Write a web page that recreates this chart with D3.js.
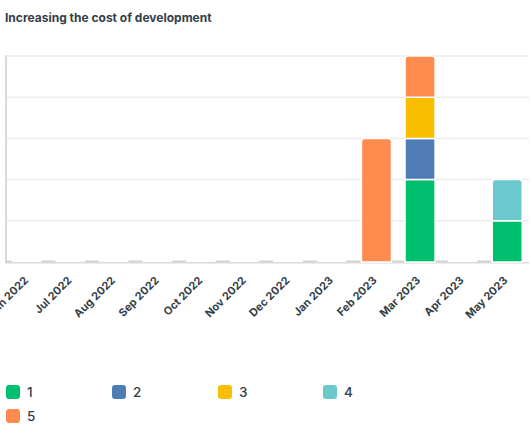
<!DOCTYPE html>
<html><head><meta charset="utf-8">
<script src="https://cdn.jsdelivr.net/npm/d3@7/dist/d3.min.js"></script>
<style>
html,body{margin:0;padding:0;background:#fff;overflow:hidden;}
svg{display:block;}
</style></head>
<body>
<script>
const title = "Increasing the cost of development";
const months = ["Jun 2022","Jul 2022","Aug 2022","Sep 2022","Oct 2022","Nov 2022","Dec 2022","Jan 2023","Feb 2023","Mar 2023","Apr 2023","May 2023"];
const seriesNames = ["1","2","3","4","5"];
const seriesColors = ["#00bf6f","#507cb6","#f9be00","#6bc8cd","#ff8b4f"];
const s1 = [0,0,0,0,0,0,0,0,0,2,0,1];
const s2 = [0,0,0,0,0,0,0,0,0,1,0,0];
const s3 = [0,0,0,0,0,0,0,0,0,1,0,0];
const s4 = [0,0,0,0,0,0,0,0,0,0,0,1];
const s5 = [0,0,0,0,0,0,0,0,3,1,0,0];
const yTicks = [0,1,2,3,4,5];

const W = 532, H = 434;
const plot = {left: 6, right: 529, top: 56, bottom: 262};
const textColor = "#333e48";

const svg = d3.select("body").append("svg").attr("width", W).attr("height", H);

svg.append("text").attr("x", 5).attr("y", 22)
  .attr("font-family", "Inter, 'Open Sans', sans-serif").attr("font-weight", 700)
  .attr("font-size", "12px").attr("fill", textColor).text(title);

const x = d3.scaleBand().domain(months).range([plot.left, plot.right]).paddingInner(0.31).paddingOuter(0.155);
const y = d3.scaleLinear().domain([0, 5]).range([plot.bottom, plot.top]);

// gridlines
svg.append("g").selectAll("line").data(yTicks.filter(d => d > 0)).join("line")
  .attr("x1", plot.left).attr("x2", plot.right)
  .attr("y1", d => y(d)).attr("y2", d => y(d))
  .attr("stroke", "#ececec").attr("stroke-width", 1.5);

// baseline and y axis line
svg.append("line").attr("x1", plot.left).attr("x2", plot.right).attr("y1", plot.bottom + 0.8).attr("y2", plot.bottom + 0.8)
  .attr("stroke", "#dadada").attr("stroke-width", 1.5);
svg.append("line").attr("x1", plot.left).attr("x2", plot.left).attr("y1", plot.top - 1).attr("y2", plot.bottom + 1.5)
  .attr("stroke", "#dadada").attr("stroke-width", 2);

// zero placeholders
svg.append("defs").append("clipPath").attr("id", "pc").append("rect")
  .attr("x", plot.left).attr("y", 0).attr("width", plot.right - plot.left).attr("height", H);
svg.append("g").attr("clip-path", "url(#pc)").selectAll("rect").data(months).join("rect")
  .attr("x", d => x(d) - 15).attr("width", 14)
  .attr("y", plot.bottom - 1.5).attr("height", 1.5).attr("fill", "#d2d2d2");

// stacked bars
const table = months.map((m, i) => ({month: m, "1": s1[i], "2": s2[i], "3": s3[i], "4": s4[i], "5": s5[i]}));
const stack = d3.stack().keys(seriesNames)(table);
const color = d3.scaleOrdinal().domain(seriesNames).range(seriesColors);

const totals = table.map(r => seriesNames.reduce((a, k) => a + r[k], 0));

stack.forEach(layer => {
  svg.append("g").selectAll("path").data(layer.filter(d => d[1] - d[0] > 0)).join("path")
    .attr("fill", color(layer.key))
    .attr("stroke", "#fff").attr("stroke-width", 1.5)
    .attr("d", d => {
      const x0 = x(d.data.month), w = x.bandwidth();
      const yt = y(d[1]), yb = y(d[0]);
      const isTop = Math.abs(d[1] - totals[months.indexOf(d.data.month)]) < 1e-9;
      const r = isTop ? 3 : 0;
      return `M${x0},${yb}L${x0},${yt + r}Q${x0},${yt} ${x0 + r},${yt}L${x0 + w - r},${yt}Q${x0 + w},${yt} ${x0 + w},${yt + r}L${x0 + w},${yb}Z`;
    });
});

// x labels
svg.append("g").selectAll("text").data(months).join("text")
  .attr("transform", d => `translate(${x(d) + x.bandwidth() / 2 + 1},${plot.bottom + 19}) rotate(-45)`)
  .attr("text-anchor", "end")
  .attr("font-family", "Inter, 'Open Sans', sans-serif").attr("font-weight", 700)
  .attr("font-size", "11px").attr("fill", textColor).text(d => d);

// legend
const legendCols = [6, 112, 218, 323];
const lg = svg.append("g").selectAll("g").data(seriesNames).join("g")
  .attr("transform", (d, i) => `translate(${legendCols[i % 4]},${385 + Math.floor(i / 4) * 24})`);
lg.append("rect").attr("width", 14).attr("height", 14).attr("rx", 3).attr("fill", d => color(d));
lg.append("text").attr("x", 21).attr("y", 12)
  .attr("font-family", "Inter, 'Open Sans', sans-serif").attr("font-weight", 500)
  .attr("font-size", "13.5px").attr("fill", textColor).text(d => d);
</script>
</body></html>
